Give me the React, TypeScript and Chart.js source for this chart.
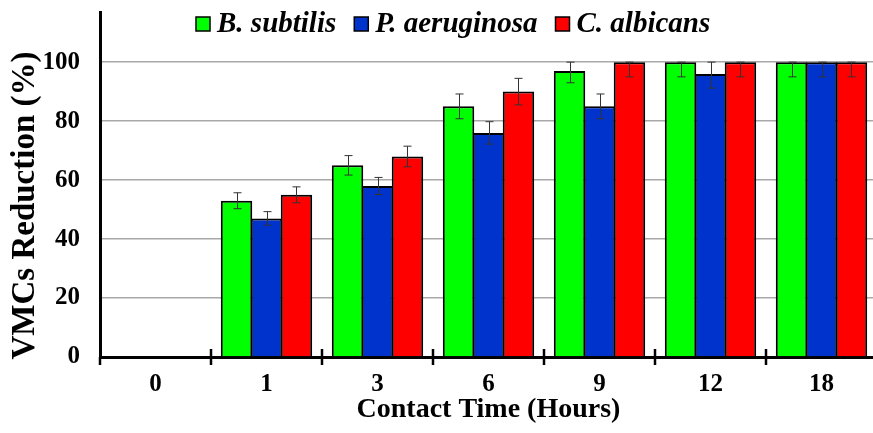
import React, { useEffect, useRef } from "react";
import { Chart, registerables } from "chart.js";

Chart.register(...registerables);

const categories = ["0", "1", "3", "6", "9", "12", "18"];
const seriesNames = ["B. subtilis", "P. aeruginosa", "C. albicans"];
const bSubtilis = [0, 53, 65, 85, 97, 100, 100];
const pAeruginosa = [0, 47, 58, 76, 85, 96, 100];
const cAlbicans = [0, 55, 68, 90, 100, 100, 100];
const bSubtilisErr = [0, 2.7, 3.3, 4.2, 4.0, 5, 5];
const pAeruginosaErr = [0, 2.3, 2.9, 3.8, 4.2, 4.8, 5];
const cAlbicansErr = [0, 2.7, 3.5, 4.5, 5, 5, 5];
const colors = ["#00FF00", "#0033CC", "#FF0000"];
const yTicks = [0, 20, 40, 60, 80, 100];

const SERIF = "'Liberation Serif', 'Times New Roman', serif";

const errorBarPlugin = {
  id: "errorBars",
  afterDatasetsDraw(chart: any) {
    const ctx = chart.ctx;
    const y = chart.scales.y;
    ctx.save();
    ctx.strokeStyle = "#333";
    ctx.lineWidth = 1;
    chart.data.datasets.forEach((ds: any, di: number) => {
      const meta = chart.getDatasetMeta(di);
      meta.data.forEach((bar: any, i: number) => {
        const v = ds.data[i];
        const e = ds.errors[i];
        if (!v || !e) return;
        const top = y.getPixelForValue(Math.min(v + e, 100));
        const bot = y.getPixelForValue(v - e);
        const x = Math.round(bar.x) + 0.5;
        const cap = 4;
        ctx.beginPath();
        ctx.moveTo(x, top);
        ctx.lineTo(x, bot);
        ctx.moveTo(x - cap, top);
        ctx.lineTo(x + cap, top);
        ctx.moveTo(x - cap, bot);
        ctx.lineTo(x + cap, bot);
        ctx.stroke();
      });
    });
    ctx.restore();
  },
};

const axisTicksPlugin = {
  id: "axisTicks",
  afterDraw(chart: any) {
    const ctx = chart.ctx;
    const x = chart.scales.x;
    const area = chart.chartArea;
    ctx.save();
    ctx.strokeStyle = "#000";
    ctx.lineWidth = 2.5;
    for (let i = 0; i <= categories.length; i++) {
      const px = i === 0 ? area.left : x.getPixelForValue(i - 0.5);
      ctx.beginPath();
      ctx.moveTo(px, area.bottom - (i === 0 ? 0 : 8));
      ctx.lineTo(px, area.bottom + 8);
      ctx.stroke();
    }
    ctx.restore();
  },
};

const legendPlugin = {
  id: "customLegend",
  afterDraw(chart: any) {
    const ctx = chart.ctx;
    const area = chart.chartArea;
    ctx.save();
    ctx.font = `italic bold 29px ${SERIF}`;
    ctx.textBaseline = "middle";
    const cy = 24;
    let cx = area.left + 96;
    chart.data.datasets.forEach((ds: any) => {
      ctx.fillStyle = ds.backgroundColor;
      ctx.fillRect(cx, cy - 7, 14, 14);
      ctx.strokeStyle = "#000";
      ctx.lineWidth = 1.5;
      ctx.strokeRect(cx, cy - 7, 14, 14);
      ctx.fillStyle = "#000";
      ctx.fillText(ds.label, cx + 21, cy + 1);
      cx += 21 + ctx.measureText(ds.label).width + 18;
    });
    ctx.restore();
  },
};

const yTitlePlugin = {
  id: "yTitle",
  afterDraw(chart: any) {
    const ctx = chart.ctx;
    const area = chart.chartArea;
    ctx.save();
    ctx.font = `bold 33px ${SERIF}`;
    ctx.fillStyle = "#000";
    ctx.textAlign = "center";
    ctx.textBaseline = "middle";
    ctx.translate(25, (area.top + area.bottom) / 2 + 21);
    ctx.rotate(-Math.PI / 2);
    ctx.fillText("VMCs Reduction (%)", 0, 0);
    ctx.restore();
  },
};

export default function App() {
  const ref = useRef<HTMLCanvasElement>(null);
  useEffect(() => {
    if (!ref.current) return;
    const series = [bSubtilis, pAeruginosa, cAlbicans];
    const errs = [bSubtilisErr, pAeruginosaErr, cAlbicansErr];
    const chart = new Chart(ref.current, {
      type: "bar",
      data: {
        labels: categories,
        datasets: series.map((d, i) => ({
          label: seriesNames[i],
          data: d,
          errors: errs[i],
          backgroundColor: colors[i],
          borderColor: "#000",
          borderWidth: 2,
          categoryPercentage: 0.81,
          barPercentage: 1.05,
        })) as any,
      },
      options: {
        animation: false,
        responsive: false,
        layout: { padding: { top: 12, right: 8, left: 0, bottom: 0 } },
        plugins: { legend: { display: false }, tooltip: { enabled: false } },
        scales: {
          x: {
            grid: { display: false, drawTicks: false },
            border: { display: true, color: "#000", width: 3 },
            ticks: {
              color: "#000",
              padding: 13,
              font: { family: SERIF, size: 25, weight: "bold" },
            },
            title: {
              display: true,
              text: "Contact Time (Hours)",
              color: "#000",
              font: { family: SERIF, size: 28, weight: "bold" },
              padding: { top: 0, bottom: 6 },
            },
            afterFit: (s: any) => {
              s.height = 76;
              s.paddingLeft = 0;
              s.paddingRight = 0;
            },
          },
          y: {
            min: 0,
            max: 117,
            grid: {
              drawTicks: false,
              color: (c: any) => (c.tick && c.tick.value === 0 ? "rgba(0,0,0,0)" : "#a8a8a8"),
              lineWidth: 1.5,
            },
            border: { display: true, color: "#000", width: 3 },
            afterBuildTicks: (s: any) => {
              s.ticks = yTicks.map((v) => ({ value: v }));
            },
            ticks: {
              color: "#000",
              padding: 20,
              font: { family: SERIF, size: 25, weight: "bold" },
            },
            afterFit: (s: any) => {
              s.width = 100;
              s.paddingTop = 0;
              s.paddingBottom = 0;
            },
          },
        },
      },
      plugins: [errorBarPlugin, axisTicksPlugin, legendPlugin, yTitlePlugin],
    });
    return () => chart.destroy();
  }, []);
  return (
    <div
      style={{
        position: "absolute",
        left: 0,
        top: 0,
        width: 873,
        height: 433,
        overflow: "hidden",
        background: "#fff",
      }}
    >
      <canvas ref={ref} width={885} height={433} />
    </div>
  );
}
